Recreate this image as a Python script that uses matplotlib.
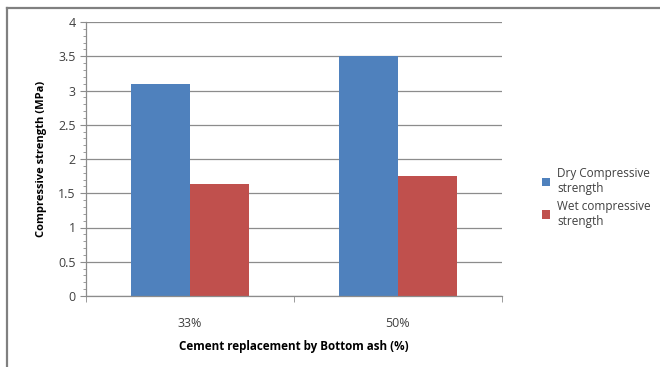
import matplotlib.pyplot as plt
import numpy as np
from matplotlib.lines import Line2D

# Compressive strength by cement replacement level
categories = ['33%', '50%']
dry_strength = [3.1, 3.5]
wet_strength = [1.64, 1.75]
series_names = ['Dry Compressive\nstrength', 'Wet compressive\nstrength']

plt.rcParams['font.family'] = ['Open Sans', 'DejaVu Sans']

fig = plt.figure(figsize=(6.6, 3.67), dpi=100)
ax = fig.add_axes([86 / 660, 1 - 296 / 367, 416 / 660, 274 / 367])

x = np.arange(len(categories))
width = 0.285
ax.bar(x - width / 2, dry_strength, width, color='#4F81BD', label=series_names[0])
ax.bar(x + width / 2, wet_strength, width, color='#C0504D', label=series_names[1])

ax.set_xlim(-0.5, len(categories) - 0.5)
ax.set_ylim(0, 4)
ax.set_yticks(np.arange(0, 4.01, 0.5))
ax.set_yticklabels(['0', '0.5', '1', '1.5', '2', '2.5', '3', '3.5', '4'])
ax.set_yticks(np.arange(0, 4.01, 0.1), minor=True)
ax.yaxis.grid(True, color='#8c8c8c', linewidth=0.9)
ax.set_axisbelow(True)

ax.set_xticks(x)
ax.set_xticklabels(categories)
ax.set_xticks(np.arange(-0.5, len(categories), 1.0), minor=True)
ax.tick_params(axis='x', which='major', length=0, pad=15, labelsize=9, colors='#404040')
ax.tick_params(axis='x', which='minor', length=4, color='#8c8c8c')
ax.tick_params(axis='y', which='major', length=4, color='#8c8c8c', labelsize=9, labelcolor='#404040')
ax.tick_params(axis='y', which='minor', length=2, color='#8c8c8c')

for side in ['top', 'right']:
    ax.spines[side].set_visible(False)
for side in ['left', 'bottom']:
    ax.spines[side].set_color('#8c8c8c')
    ax.spines[side].set_linewidth(0.9)

ax.set_xlabel('Cement replacement by Bottom ash (%)', fontsize=8.4, fontweight='bold', labelpad=7)
ax.set_ylabel('Compressive strength (MPa)', fontsize=8, fontweight='bold', labelpad=8)

ax.legend(loc='center left', bbox_to_anchor=(1.07, 0.36), frameon=False, fontsize=8.5,
          handlelength=0.7, handleheight=0.7, handletextpad=0.6, labelspacing=0.4,
          labelcolor='#404040')

# chart area frame (top and left edges)
fig.add_artist(Line2D([7 / 660, 7 / 660], [0, 1 - 8 / 367], transform=fig.transFigure,
                      color='#808080', linewidth=1.6))
fig.add_artist(Line2D([7 / 660, 1], [1 - 8 / 367, 1 - 8 / 367], transform=fig.transFigure,
                      color='#808080', linewidth=1.6))

fig.savefig('out.png', dpi=100)
